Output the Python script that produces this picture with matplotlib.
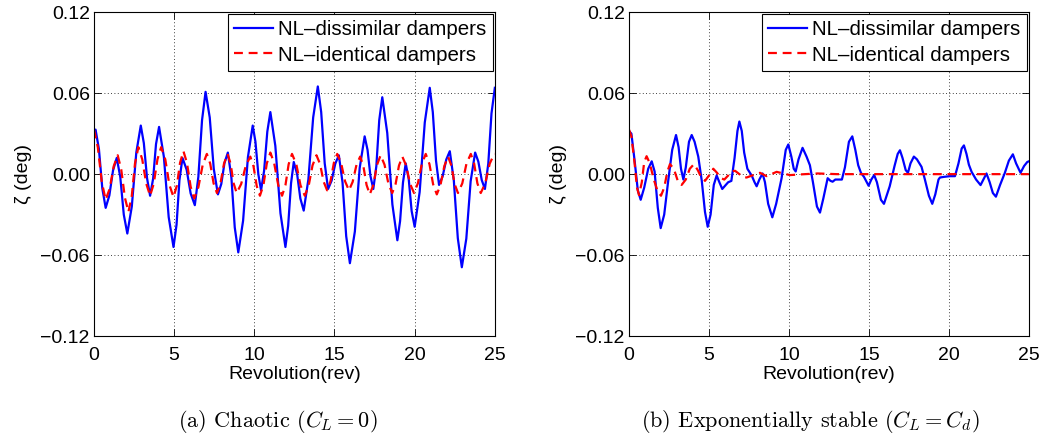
import matplotlib
matplotlib.use('Agg')
import matplotlib.pyplot as plt

# rev / zeta (deg), panel (a) chaotic
rev_a_dis = [0.00, 0.10, 0.31, 0.52, 0.73, 0.96, 1.19, 1.42, 1.64, 1.86, 2.08, 2.36, 2.64, 2.92,
             3.11, 3.31, 3.50, 3.69, 3.87, 4.06, 4.36, 4.66, 4.96, 5.15, 5.33, 5.52, 5.78, 6.03,
             6.29, 6.51, 6.74, 6.96, 7.22, 7.47, 7.73, 7.94, 8.14, 8.35, 8.57, 8.78, 9.00, 9.30,
             9.60, 9.90, 10.07, 10.25, 10.42, 10.61, 10.81, 11.00, 11.31, 11.63, 11.94, 12.11,
             12.29, 12.46, 12.67, 12.87, 13.08, 13.37, 13.67, 13.96, 14.17, 14.39, 14.60, 14.82,
             15.05, 15.27, 15.50, 15.73, 15.96, 16.27, 16.57, 16.88, 17.06, 17.24, 17.42, 17.61,
             17.79, 17.98, 18.29, 18.61, 18.92, 19.09, 19.27, 19.44, 19.63, 19.81, 20.00, 20.31,
             20.63, 20.94, 21.13, 21.33, 21.52, 21.74, 21.97, 22.19, 22.44, 22.69, 22.94, 23.22,
             23.49, 23.77, 23.97, 24.18, 24.38, 24.59, 24.79, 25.00]
zeta_a_dis = [0.032, 0.033, 0.0185, -0.0105, -0.025, -0.0158, 0.0028, 0.012, -0.002, -0.030,
              -0.044, -0.024, 0.016, 0.036, 0.023, -0.003, -0.016, -0.0033, 0.0223, 0.035, 0.0128,
              -0.0318, -0.054, -0.0375, -0.0045, 0.012, 0.0033, -0.0143, -0.023, -0.002, 0.040,
              0.061, 0.042, 0.004, -0.015, -0.0073, 0.0083, 0.016, -0.0025, -0.0395, -0.058,
              -0.0345, 0.0125, 0.036, 0.024, 0.000, -0.012, 0.0025, 0.0315, 0.046, 0.021, -0.029,
              -0.054, -0.0383, -0.0068, 0.009, 0.000, -0.018, -0.027, -0.004, 0.042, 0.065, 0.046,
              0.008, -0.011, -0.0048, 0.0078, 0.014, -0.006, -0.046, -0.066, -0.0425, 0.0045,
              0.028, 0.018, -0.0013, -0.011, 0.006, 0.040, 0.057, 0.0305, -0.0225, -0.049,
              -0.0348, -0.0063, 0.008, -0.0038, -0.0273, -0.039, -0.0133, 0.0383, 0.064, 0.046,
              0.010, -0.008, -0.0018, 0.0108, 0.017, -0.0045, -0.0475, -0.069, -0.0478, -0.0053,
              0.016, 0.0093, -0.0043, -0.011, 0.0078, 0.045, 0.064]

rev_a_id = [0.00, 0.24, 0.49, 0.73, 0.98, 1.23, 1.48, 1.70, 1.93, 2.15, 2.36, 2.56, 2.77, 3.01,
            3.26, 3.50, 3.73, 3.96, 4.19, 4.45, 4.70, 4.96, 5.17, 5.37, 5.58, 5.80, 6.03, 6.25,
            6.51, 6.78, 7.04, 7.25, 7.46, 7.67, 7.89, 8.11, 8.33, 8.52, 8.71, 8.90, 9.18, 9.47,
            9.75, 9.95, 10.15, 10.35, 10.57, 10.78, 11.00, 11.24, 11.49, 11.73, 11.94, 12.14,
            12.35, 12.62, 12.88, 13.15, 13.39, 13.63, 13.875, 14.10, 14.32, 14.54, 14.75, 14.96,
            15.17, 15.41, 15.66, 15.90, 16.13, 16.37, 16.60, 16.80, 17.00, 17.20, 17.43, 17.65,
            17.875, 18.12, 18.36, 18.60, 18.81, 19.02, 19.23, 19.47, 19.72, 19.96, 20.20, 20.45,
            20.69, 20.92, 21.15, 21.38, 21.61, 21.85, 22.08, 22.29, 22.49, 22.70, 22.97, 23.23,
            23.50, 23.71, 23.91, 24.12, 24.40, 24.68, 24.96, 25.00]
zeta_a_id = [0.033, 0.020, -0.006, -0.019, -0.0108, 0.0058, 0.014, 0.0035, -0.0175, -0.028,
             -0.016, 0.008, 0.020, 0.011, -0.007, -0.016, -0.007, 0.011, 0.020, 0.0108, -0.0078,
             -0.017, -0.0085, 0.0085, 0.017, 0.0083, -0.0093, -0.018, -0.0098, 0.0068, 0.015,
             0.0078, -0.0068, -0.014, -0.0068, 0.0078, 0.015, 0.0078, -0.0068, -0.014, -0.0073,
             0.0063, 0.013, 0.0058, -0.0088, -0.016, -0.008, 0.008, 0.016, 0.008, -0.008, -0.016,
             -0.0083, 0.0073, 0.015, 0.0073, -0.0083, -0.016, -0.0085, 0.0065, 0.014, 0.0075,
             -0.0055, -0.012, -0.0053, 0.0083, 0.015, 0.0083, -0.0053, -0.012, -0.0058, 0.0068,
             0.013, 0.006, -0.008, -0.015, -0.0078, 0.0068, 0.014, 0.007, -0.007, -0.014, -0.0073,
             0.0063, 0.013, 0.0063, -0.0073, -0.014, -0.0068, 0.0078, 0.015, 0.0075, -0.0075,
             -0.015, -0.008, 0.006, 0.013, 0.0063, -0.0073, -0.014, -0.0068, 0.0078, 0.015,
             0.0078, -0.0068, -0.014, -0.0068, 0.0078, 0.015, 0.015]

# panel (b) exponentially stable
rev_b_dis = [0.0, 0.15, 0.35, 0.55, 0.73, 0.95, 1.2, 1.42, 1.6, 1.8, 1.98, 2.2, 2.45, 2.7, 2.94,
             3.1, 3.25, 3.4, 3.55, 3.75, 3.92, 4.1, 4.33, 4.55, 4.75, 4.92, 5.1, 5.3, 5.48, 5.65,
             5.83, 6.05, 6.2, 6.4, 6.6, 6.78, 6.9, 7.05, 7.2, 7.4, 7.67, 7.85, 7.98, 8.15, 8.35,
             8.5, 8.7, 8.96, 9.2, 9.54, 9.8, 9.96, 10.15, 10.3, 10.42, 10.6, 10.85, 11.1, 11.31,
             11.5, 11.75, 11.94, 12.15, 12.42, 12.6, 12.73, 12.9, 13.02, 13.31, 13.5, 13.75, 13.96,
             14.15, 14.33, 14.5, 14.69, 14.98, 15.15, 15.33, 15.5, 15.75, 15.94, 16.3, 16.6, 16.8,
             16.94, 17.1, 17.3, 17.44, 17.6, 17.81, 18.0, 18.29, 18.5, 18.75, 18.96, 19.15, 19.35,
             19.44, 19.7, 20.06, 20.38, 20.6, 20.8, 20.94, 21.1, 21.25, 21.42, 21.7, 21.98, 22.2,
             22.35, 22.55, 22.75, 22.94, 23.2, 23.5, 23.75, 24.0, 24.2, 24.48, 24.7, 24.9, 25.0]
zeta_b_dis = [0.032, 0.030, 0.010, -0.012, -0.019, -0.010, 0.004, 0.0095, 0.002, -0.025, -0.040,
              -0.030, -0.005, 0.018, 0.029, 0.020, 0.004, -0.004, 0.005, 0.024, 0.029, 0.024,
              0.013, -0.005, -0.028, -0.039, -0.030, -0.008, -0.001, -0.006, -0.011, -0.008,
              -0.006, -0.005, 0.012, 0.032, 0.039, 0.032, 0.016, 0.004, -0.001, -0.006, -0.009,
              -0.004, 0.0005, -0.006, -0.022, -0.032, -0.022, -0.003, 0.018, 0.022, 0.013, 0.004,
              0.002, 0.011, 0.0195, 0.013, 0.0066, -0.006, -0.024, -0.0285, -0.018, -0.003,
              -0.005, -0.0056, -0.004, -0.004, -0.004, 0.005, 0.024, 0.028, 0.018, 0.0066, 0.001,
              -0.002, -0.0086, -0.004, -0.0007, -0.006, -0.019, -0.022, -0.009, 0.006, 0.015,
              0.0177, 0.012, 0.003, 0.001, 0.008, 0.013, 0.011, 0.0054, -0.004, -0.016, -0.022,
              -0.015, -0.004, -0.0025, -0.002, -0.0015, -0.0015, 0.008, 0.019, 0.0213, 0.015,
              0.007, 0.0017, -0.004, -0.0081, -0.003, 0.0005, -0.006, -0.014, -0.0167, -0.008,
              0.001, 0.010, 0.0147, 0.008, 0.001, 0.006, 0.009, 0.0095]

rev_b_id = [0.0, 0.15, 0.35, 0.5, 0.625, 0.8, 0.95, 1.1, 1.3, 1.55, 1.8, 2.0, 2.2, 2.4, 2.56, 2.8,
            3.05, 3.29, 3.55, 3.8, 4.06, 4.3, 4.5, 4.75, 5.0, 5.27, 5.5, 5.75, 5.96, 6.2, 6.4,
            6.63, 6.9, 7.1, 7.35, 7.7, 8.19, 8.6, 9.23, 10.06, 11.0, 11.8, 13.0, 15.0, 17.0, 19.0,
            21.0, 23.0, 25.0]
zeta_b_id = [0.033, 0.028, 0.008, -0.010, -0.0155, -0.006, 0.009, 0.0133, 0.008, -0.004, -0.013,
             -0.016, -0.010, 0.002, 0.0074, 0.004, -0.005, -0.008, -0.004, 0.004, 0.0074, 0.003,
             -0.002, -0.005, -0.001, 0.004, 0.001, -0.003, -0.004, -0.001, 0.002, 0.0025, 0.000,
             -0.002, -0.0025, -0.001, 0.001, -0.0015, 0.0017, -0.0007, 0.0, 0.0005, 0.0, 0.0,
             0.0, 0.0, 0.0, 0.0, 0.0]

yticks = [-0.12, -0.06, 0.0, 0.06, 0.12]
ytick_labels = ['\u22120.12', '\u22120.06', '0.00', '0.06', '0.12']
xticks = [0, 5, 10, 15, 20, 25]
captions = [r'(a) Chaotic ($C_L = 0$)', r'(b) Exponentially stable ($C_L = C_d$)']
caption_x = [0.266, 0.776]

plt.rcParams['font.family'] = ['Liberation Sans', 'DejaVu Sans']
plt.rcParams['mathtext.fontset'] = 'cm'

fig = plt.figure(figsize=(10.44, 4.37), dpi=100)
ax1 = fig.add_axes([0.090, 0.231, 0.384, 0.741])
ax2 = fig.add_axes([0.6025, 0.231, 0.383, 0.741])

panels = [(ax1, rev_a_dis, zeta_a_dis, rev_a_id, zeta_a_id),
          (ax2, rev_b_dis, zeta_b_dis, rev_b_id, zeta_b_id)]

for i, (ax, t1, z1, t2, z2) in enumerate(panels):
    ax.plot(t1, z1, color='#0000ff', lw=1.6, solid_joinstyle='round',
            label='NL\u2013dissimilar dampers')
    ax.plot(t2, z2, color='#ff0000', lw=1.6, ls=(0, (4, 2.6)),
            label='NL\u2013identical dampers')
    ax.set_xlim(0, 25)
    ax.set_ylim(-0.12, 0.12)
    ax.set_xticks(xticks)
    ax.set_yticks(yticks)
    ax.set_yticklabels(ytick_labels)
    ax.tick_params(direction='in', top=True, right=True, labelsize=14, length=5, width=0.6)
    ax.tick_params(axis='x', pad=8)
    ax.tick_params(axis='y', pad=3)
    ax.grid(True, color='black', ls=(0, (1, 3)), lw=0.6)
    for s in ax.spines.values():
        s.set_linewidth(0.8)
    ax.set_xlabel('Revolution(rev)', fontsize=14, labelpad=1)
    ax.set_ylabel('\u03b6 (deg)', fontsize=14, labelpad=6)
    leg = ax.legend(loc='upper right', fontsize=14.8, borderaxespad=0.1, fancybox=False,
                    framealpha=1, edgecolor='black', handlelength=1.9, handletextpad=0.25,
                    borderpad=0.3, labelspacing=0.3)
    leg.get_frame().set_linewidth(0.8)
    fig.text(caption_x[i], 0.023, captions[i], ha='center', va='baseline',
             fontsize=16, family='cmr10')

fig.savefig('out.png', dpi=100)
